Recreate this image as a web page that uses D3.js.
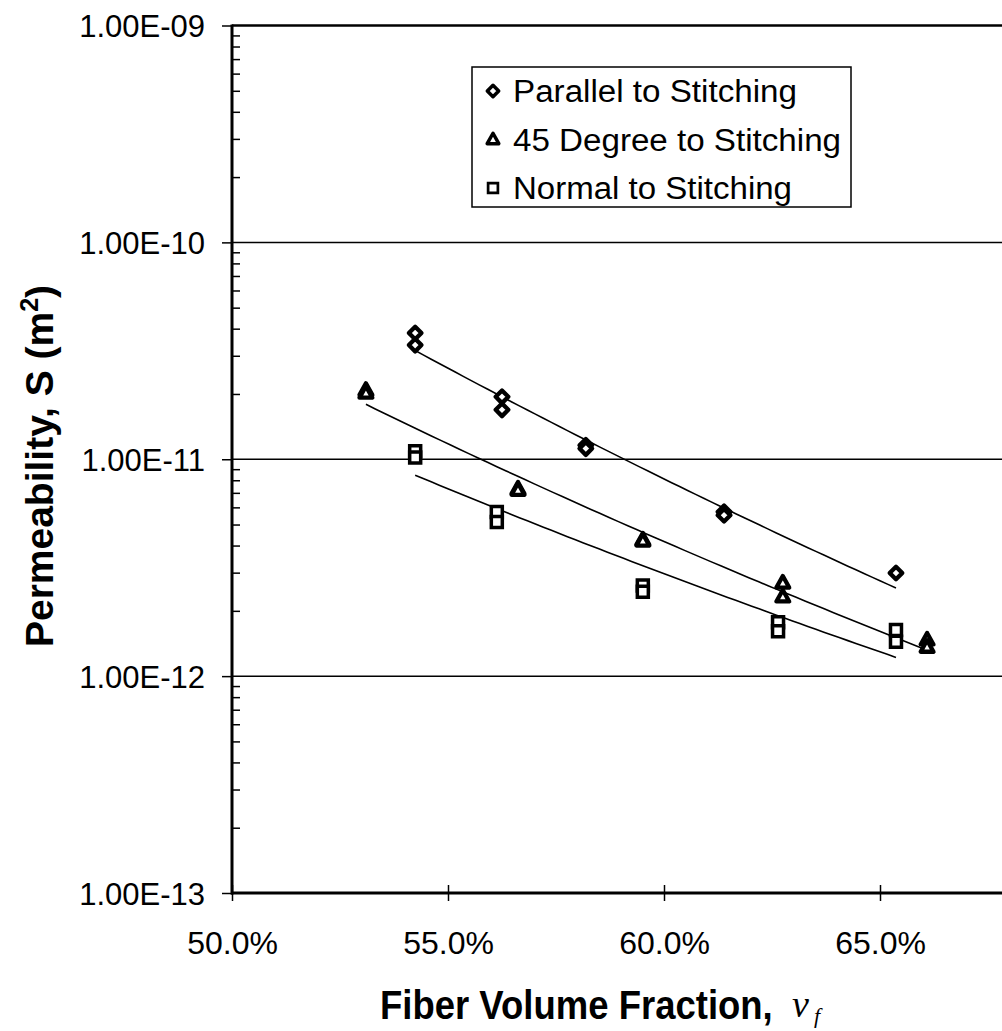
<!DOCTYPE html>
<html>
<head>
<meta charset="utf-8">
<script src="https://cdn.jsdelivr.net/npm/d3@7"></script>
<style>
  html, body { margin: 0; padding: 0; background: #fff; overflow: hidden; }
  svg { display: block; }
  text { font-family: Arial, "Liberation Sans", sans-serif; fill: #000; }
</style>
</head>
<body>
<svg id="chart" width="1002" height="1031"></svg>
<script>
// Permeability measurements vs. fiber volume fraction, three flow directions
const seriesNames = ["Parallel to Stitching", "45 Degree to Stitching", "Normal to Stitching"];
const seriesShapes = ["diamond", "triangle", "square"];

const parallelVf = [0.5424, 0.5424, 0.5625, 0.5625, 0.5819, 0.5819, 0.6139, 0.6139, 0.6537];
const parallelS  = [3.82e-11, 3.36e-11, 1.94e-11, 1.69e-11, 1.16e-11, 1.12e-11, 5.72e-12, 5.52e-12, 2.99e-12];

const degree45Vf = [0.5310, 0.5310, 0.5662, 0.5662, 0.5951, 0.5951, 0.6275, 0.6275, 0.6609, 0.6609];
const degree45S  = [2.08e-11, 2.02e-11, 7.30e-12, 7.20e-12, 4.25e-12, 4.20e-12, 2.69e-12, 2.32e-12, 1.47e-12, 1.36e-12];

const normalVf = [0.5424, 0.5424, 0.5613, 0.5613, 0.5951, 0.5951, 0.6264, 0.6264, 0.6537, 0.6537];
const normalS  = [1.09e-11, 1.02e-11, 5.71e-12, 5.13e-12, 2.62e-12, 2.45e-12, 1.77e-12, 1.61e-12, 1.63e-12, 1.44e-12];

const xTicks = [0.50, 0.55, 0.60, 0.65];
const yTicks = [1e-13, 1e-12, 1e-11, 1e-10, 1e-9];

const series = [
  { name: seriesNames[0], shape: seriesShapes[0], vf: parallelVf, s: parallelS },
  { name: seriesNames[1], shape: seriesShapes[1], vf: degree45Vf, s: degree45S },
  { name: seriesNames[2], shape: seriesShapes[2], vf: normalVf,   s: normalS }
];

const svg = d3.select("#chart");

const x = d3.scaleLinear().domain([0.50, 0.70]).range([232, 1096]);
const y = d3.scaleLog().domain([1e-13, 1e-9]).range([893, 25.5]);

const fmtPct = d3.format(".1%");
const fmtSci = v => {
  const [m, e] = v.toExponential(2).toUpperCase().split("E");
  const n = Math.abs(+e);
  return m + "E" + (+e < 0 ? "-" : "+") + (n < 10 ? "0" + n : n);
};

// horizontal gridlines at each decade
svg.append("g").selectAll("line").data(yTicks.slice(1, 4)).join("line")
  .attr("x1", 232).attr("x2", 1002)
  .attr("y1", d => y(d)).attr("y2", d => y(d))
  .attr("stroke", "#000").attr("stroke-width", 1.5);

// top border
svg.append("line")
  .attr("x1", 232).attr("x2", 1002)
  .attr("y1", y(1e-9)).attr("y2", y(1e-9))
  .attr("stroke", "#000").attr("stroke-width", 2.5);

// minor ticks (2..9 in each decade) pointing into the plot
const minor = [];
for (let e = -13; e < -9; e++) for (let k = 2; k <= 9; k++) minor.push(k * Math.pow(10, e));
svg.append("g").attr("transform", "translate(232,0)")
  .call(d3.axisRight(y).tickValues(minor).tickSize(8).tickFormat(""))
  .call(g => g.select(".domain").remove())
  .call(g => g.selectAll("line").attr("stroke", "#000").attr("stroke-width", 1.5));

// y axis with major ticks and labels
svg.append("g").attr("transform", "translate(232,0)")
  .call(d3.axisLeft(y).tickValues(yTicks).tickFormat(fmtSci).tickSize(10).tickPadding(17))
  .call(g => g.select(".domain").remove())
  .call(g => g.selectAll("line").attr("stroke", "#000").attr("stroke-width", 1.5))
  .call(g => g.selectAll("text").attr("font-size", 31).attr("font-family", "Arial, 'Liberation Sans', sans-serif")
    .attr("dy", "0.36em").attr("fill", "#000"));

// x axis ticks crossing the baseline
svg.append("g").attr("transform", "translate(0,893)")
  .call(d3.axisBottom(x).tickValues(xTicks).tickFormat(fmtPct).tickSizeInner(8).tickSizeOuter(0).tickPadding(30))
  .call(g => g.select(".domain").remove())
  .call(g => g.selectAll("line").attr("y1", -8).attr("stroke", "#000").attr("stroke-width", 1.5))
  .call(g => g.selectAll("text").attr("font-size", 32).attr("font-family", "Arial, 'Liberation Sans', sans-serif")
    .attr("dy", "0.71em").attr("fill", "#000"));

// axis lines
svg.append("line").attr("x1", 232).attr("x2", 232).attr("y1", y(1e-9) - 1).attr("y2", 894.5)
  .attr("stroke", "#000").attr("stroke-width", 3);
svg.append("line").attr("x1", 231).attr("x2", 1002).attr("y1", 893).attr("y2", 893)
  .attr("stroke", "#000").attr("stroke-width", 3);

// power-law trendlines S = a * vf^b fitted on log-log
function powerFit(xs, ys) {
  const lx = xs.map(Math.log), ly = ys.map(Math.log);
  const mx = d3.mean(lx), my = d3.mean(ly);
  const b = d3.sum(lx, (v, i) => (v - mx) * (ly[i] - my)) / d3.sum(lx, v => (v - mx) * (v - mx));
  const a = Math.exp(my - b * mx);
  return v => a * Math.pow(v, b);
}
const line = d3.line().x(d => x(d[0])).y(d => y(d[1]));
series.forEach(sr => {
  const f = powerFit(sr.vf, sr.s);
  const [lo, hi] = d3.extent(sr.vf);
  const pts = d3.range(0, 61).map(i => { const v = lo + (hi - lo) * i / 60; return [v, f(v)]; });
  svg.append("path").datum(pts).attr("d", line)
    .attr("fill", "none").attr("stroke", "#000").attr("stroke-width", 1.6);
});

// marker shapes
function markerPath(shape, r) {
  if (shape === "diamond") return `M0,${-r}L${r},0L0,${r}L${-r},0Z`;
  if (shape === "square") return `M${-r},${-r}H${r}V${r}H${-r}Z`;
  const h = r * 1.8;
  return `M0,${-h * 0.6}L${r},${h * 0.4}L${-r},${h * 0.4}Z`;
}
const markerSize = { diamond: 6.3, triangle: 6.4, square: 5.5 };
const markerStroke = { diamond: 4.3, triangle: 4.3, square: 3.5 };

series.forEach(sr => {
  svg.append("g").selectAll("path").data(sr.vf.map((v, i) => [v, sr.s[i]])).join("path")
    .attr("transform", d => `translate(${x(d[0])},${y(d[1])})`)
    .attr("d", markerPath(sr.shape, markerSize[sr.shape]))
    .attr("fill", "#fff").attr("stroke", "#000").attr("stroke-width", markerStroke[sr.shape])
    .attr("stroke-linejoin", sr.shape === "square" ? "miter" : "round");
});

// legend
const legend = svg.append("g");
legend.append("rect").attr("x", 472).attr("y", 67).attr("width", 379).attr("height", 140)
  .attr("fill", "#fff").attr("stroke", "#000").attr("stroke-width", 1.5);
const legendWidths = [284, 328, 279];
series.forEach((sr, i) => {
  const cy = 91 + i * 48.5;
  legend.append("path").attr("transform", `translate(493,${cy})`)
    .attr("d", markerPath(sr.shape, markerSize[sr.shape] - 0.6))
    .attr("fill", "#fff").attr("stroke", "#000").attr("stroke-width", markerStroke[sr.shape] - 0.8)
    .attr("stroke-linejoin", sr.shape === "square" ? "miter" : "round");
  legend.append("text").attr("x", 513).attr("y", cy + 11)
    .attr("font-size", 31).attr("textLength", legendWidths[i]).attr("lengthAdjust", "spacingAndGlyphs")
    .text(sr.name);
});

// axis titles
const yTitle = svg.append("text")
  .attr("transform", "translate(53,466) rotate(-90)")
  .attr("text-anchor", "middle").attr("font-size", 39).attr("font-weight", "bold");
yTitle.append("tspan").text("Permeability, S (m");
yTitle.append("tspan").attr("font-size", 25).attr("dy", -15).text("2");
yTitle.append("tspan").attr("dy", 15).text(")");

svg.append("text").attr("transform", "translate(380,1019) scale(1,1.12)")
  .attr("font-size", 36.5).attr("font-weight", "bold")
  .text("Fiber Volume Fraction,");
svg.append("text").attr("x", 792).attr("y", 1017)
  .style("font-family", "'Liberation Serif', 'Times New Roman', serif")
  .attr("font-style", "italic").attr("font-size", 38)
  .text("ν");
svg.append("text").attr("x", 814).attr("y", 1023)
  .style("font-family", "'Liberation Serif', 'Times New Roman', serif")
  .attr("font-style", "italic").attr("font-size", 22)
  .text("f");
</script>
</body>
</html>
